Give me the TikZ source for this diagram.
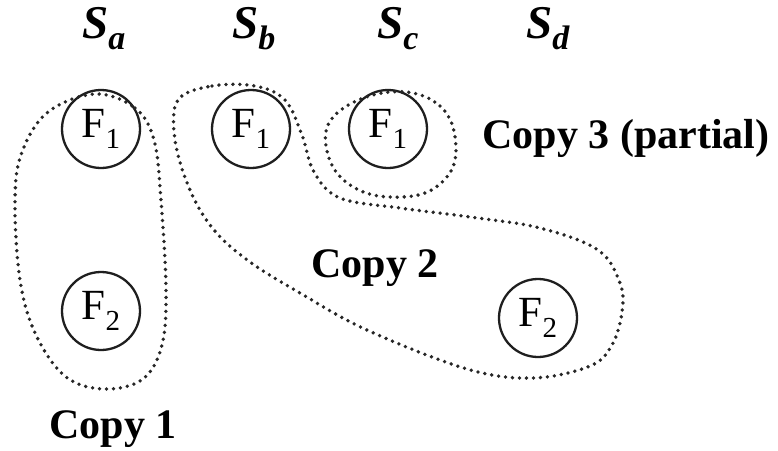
\documentclass[tikz,border=0pt]{standalone}
\usepackage{fontspec}
\setmainfont{Liberation Serif}
\newcommand\fsub[1]{{\fontsize{43}{43}\selectfont F\raisebox{-11pt}{\fontsize{29}{29}\selectfont #1}}}
\newcommand\ssub[1]{{\fontsize{47}{47}\selectfont\bfseries\itshape S\raisebox{-11pt}{\fontsize{34}{34}\selectfont #1}}}
\begin{document}
\begin{tikzpicture}[x=1pt,y=-1pt,
  fnode/.style={draw=black!88,line width=2.3pt,circle,minimum size=78pt,inner sep=0pt},
  setlabel/.style={anchor=base west,inner sep=0pt},
  copylabel/.style={anchor=base,inner sep=0pt,font=\fontsize{42}{42}\selectfont\bfseries},
  group/.style={draw=black!85,line width=3.8pt,line cap=round,dash pattern=on 0pt off 7pt}]
  \fill[white] (0,0) rectangle (778,450);
  \useasboundingbox (0,0) rectangle (778,450);

  % column headings
  \node[setlabel] (sa) at (82,38) {\ssub{a}};
  \node[setlabel] (sb) at (232,38) {\ssub{b}};
  \node[setlabel] (sc) at (377,38) {\ssub{c}};
  \node[setlabel] (sd) at (526,38) {\ssub{d}};

  % fragments
  \node[fnode] (fa1) at (101,129) {\fsub{1}};
  \node[fnode] (fa2) at (101,311) {\fsub{2}};
  \node[fnode] (fb1) at (251,129) {\fsub{1}};
  \node[fnode] (fc1) at (388,129) {\fsub{1}};
  \node[fnode] (fd2) at (538,318) {\fsub{2}};

  % copy 1
  \draw[group] plot[smooth cycle,tension=0.6] coordinates {
    (95,94) (135,108) (154,140) (161,200) (166,290) (162,345) (143,379)
    (105,389) (66,377) (36,335) (20,280) (15,200) (22,152) (48,112)};
  % copy 2
  \draw[group] plot[smooth cycle,tension=0.6] coordinates {
    (178,100) (212,86) (255,86) (285,100) (302,135) (314,172) (340,198)
    (400,208) (470,217) (540,228) (598,250) (620,283) (622,312) (612,345)
    (590,366) (533,378) (467,369) (367,330) (300,293) (250,262) (214,230)
    (190,190) (175,140)};
  % copy 3
  \draw[group] plot[smooth cycle,tension=0.7] coordinates {
    (390,92) (440,106) (456,150) (440,184) (402,197) (355,188) (328,155)
    (335,115)};

  \node[copylabel] (c1) at (113,438) {Copy 1};
  \node[copylabel] (c2) at (375,277) {Copy 2};
  \node[copylabel] (c3) at (626,148) {Copy 3 (partial)};
\end{tikzpicture}
\end{document}
